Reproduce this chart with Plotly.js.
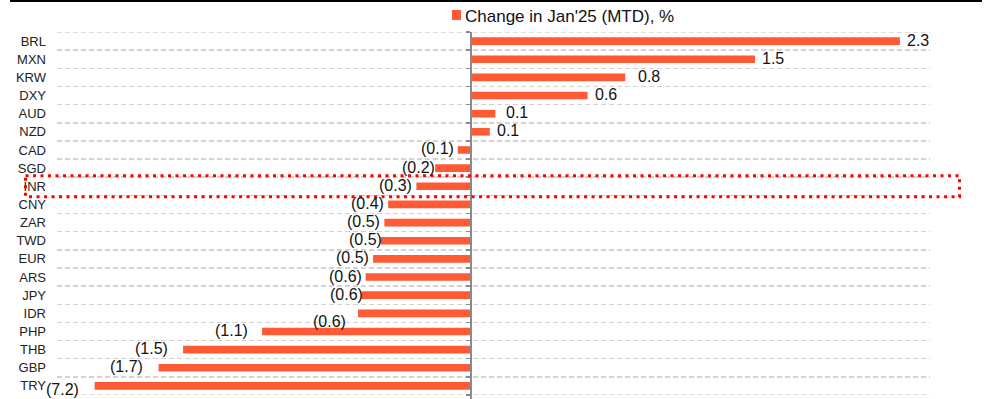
<!DOCTYPE html>
<html>
<head>
<meta charset="utf-8">
<script src="https://cdn.plot.ly/plotly-3.0.1.min.js"></script>
<style>
  html, body { margin: 0; padding: 0; background: #fff; }
  #chart { width: 996px; height: 399px; }
</style>
</head>
<body>
<div id="chart"></div>
<script>
// ---- data ----
const categories = ['BRL','MXN','KRW','DXY','AUD','NZD','CAD','SGD','INR','CNY',
                    'ZAR','TWD','EUR','ARS','JPY','IDR','PHP','THB','GBP','TRY'];
const changes = [2.28, 1.51, 0.82, 0.62, 0.13, 0.10, -0.07, -0.19, -0.29, -0.44,
                 -0.46, -0.48, -0.52, -0.56, -0.58, -0.60, -1.11, -1.53, -1.66, -7.2];
const seriesName = "Change in Jan'25 (MTD), %";
const highlighted = 'INR';

// The reference truncates long bars at the left edge of the scale (TRY shows (7.2))
const BAR_FLOOR = -2.0;

// ---- layout geometry ----
const W = 996, H = 399;
const M = { l: 57, r: 66, t: 32, b: 4, autoexpand: false };
const X_RANGE = [-2.2, 2.44];
const plotW = W - M.l - M.r, plotH = H - M.t - M.b;
const px2x = px => (px - M.l) / plotW;
const py2y = py => (H - M.b - py) / plotH;

const idx = categories.map((c, i) => i);
const boundaries = categories.map((c, i) => i - 0.5).concat([categories.length - 0.5]);
const barLen = changes.map(v => Math.max(v, BAR_FLOOR));
const fmt = v => v < 0 ? '(' + Math.abs(v).toFixed(1) + ')' : v.toFixed(1);

// label placement tweaks (px) to mimic the reference's hand-placed labels
const labelShift = { KRW: [6, 0], AUD: [4, 0], IDR: [-8, -9], PHP: [-10, 0], THB: [-11, 0],
                     GBP: [-12, 0], TRY: [-12, -5], SGD: [4, 0], TWD: [5, 0], JPY: [5, 0] };

const BAR_COLOR = '#FF5A35';
const AXIS_GRAY = '#8a8a8a';
const GRID = { color: '#d3d3d3', width: 1.5, dash: '5px,3px' };

const trace = {
  type: 'bar',
  orientation: 'h',
  x: barLen,
  y: idx,
  name: seriesName,
  marker: { color: BAR_COLOR },
  hoverinfo: 'skip',
  cliponaxis: false,
  showlegend: false
};

// invisible helper so the zero-crossing axis (y2) gets drawn
const axisHelper = {
  type: 'scatter', mode: 'markers', x: [0], y: [0], yaxis: 'y2',
  marker: { opacity: 0 }, hoverinfo: 'skip', showlegend: false
};

const annotations = changes.map((v, i) => {
  const s = labelShift[categories[i]] || [0, 0];
  return {
    x: barLen[i], y: idx[i], xref: 'x', yref: 'y',
    text: fmt(v), showarrow: false,
    xanchor: v >= 0 ? 'left' : 'right', yanchor: 'middle',
    xshift: (v >= 0 ? 7 : -4) + s[0], yshift: 1 + s[1],
    borderpad: 0, borderwidth: 0,
    font: { family: 'Liberation Sans, Arial, sans-serif', size: 16, color: '#111' }
  };
});

// legend (series key) text
annotations.push({
  xref: 'paper', yref: 'paper', x: px2x(465), y: py2y(16),
  xanchor: 'left', yanchor: 'middle', showarrow: false,
  text: seriesName, borderpad: 0, borderwidth: 0,
  font: { family: 'Liberation Sans, Arial, sans-serif', size: 17, color: '#111' }
});

const hi = categories.indexOf(highlighted);
const shapes = [
  // thin black rule at top of the figure
  { type: 'line', xref: 'paper', yref: 'paper', x0: px2x(10), x1: px2x(982), y0: py2y(1), y1: py2y(1),
    line: { color: '#000', width: 2 } },
  // legend swatch
  { type: 'rect', xref: 'paper', yref: 'paper', x0: px2x(452), x1: px2x(461), y0: py2y(20), y1: py2y(10),
    fillcolor: BAR_COLOR, line: { width: 0 } },
  // outer gridlines (top and bottom category boundaries)
  { type: 'line', xref: 'paper', yref: 'y', x0: 0, x1: 1, y0: boundaries[0], y1: boundaries[0],
    line: GRID, layer: 'below' },
  { type: 'line', xref: 'paper', yref: 'y', x0: 0, x1: 1, y0: boundaries[boundaries.length - 1], y1: boundaries[boundaries.length - 1],
    line: GRID, layer: 'below' },
  // zero axis continues to bottom edge of the figure
  { type: 'line', xref: 'x', yref: 'paper', x0: 0, x1: 0, y0: 0, y1: py2y(399),
    line: { color: AXIS_GRAY, width: 2 } },
  // red dotted highlight box
  { type: 'rect', xref: 'paper', yref: 'y', x0: px2x(25.5), x1: px2x(959.5), y0: hi - 0.58, y1: hi + 0.58,
    line: { color: '#FF0000', width: 3, dash: '3px,4.5px' }, layer: 'above' }
];

const layout = {
  width: W, height: H,
  margin: M,
  paper_bgcolor: '#fff', plot_bgcolor: '#fff',
  bargap: 0.58,
  showlegend: false,
  xaxis: {
    range: X_RANGE, showgrid: false, zeroline: false, showticklabels: false,
    ticks: '', showline: false, fixedrange: true
  },
  yaxis: {
    range: [categories.length - 0.5, -0.5],
    tickmode: 'array', tickvals: idx, ticktext: categories,
    showgrid: false, zeroline: false, showline: false, ticks: '',
    ticklabelstandoff: 10,
    tickfont: { family: 'Liberation Sans Narrow, Arial Narrow, Liberation Sans, Arial, sans-serif', size: 13, color: '#222' },
    minor: { tickmode: 'array', tickvals: boundaries, showgrid: true, gridcolor: GRID.color, gridwidth: GRID.width, griddash: GRID.dash, ticks: '' },
    fixedrange: true
  },
  yaxis2: {
    overlaying: 'y', anchor: 'free', side: 'left',
    position: (0 - X_RANGE[0]) / (X_RANGE[1] - X_RANGE[0]),
    range: [categories.length - 0.5, -0.5],
    tickmode: 'array', tickvals: boundaries, showticklabels: false,
    ticks: 'outside', ticklen: 4, tickwidth: 1.5, tickcolor: AXIS_GRAY,
    showline: true, linecolor: AXIS_GRAY, linewidth: 2,
    showgrid: false, zeroline: false, fixedrange: true
  },
  annotations: annotations,
  shapes: shapes
};

Plotly.newPlot('chart', [trace, axisHelper], layout, { displayModeBar: false, staticPlot: true });
</script>
</body>
</html>
